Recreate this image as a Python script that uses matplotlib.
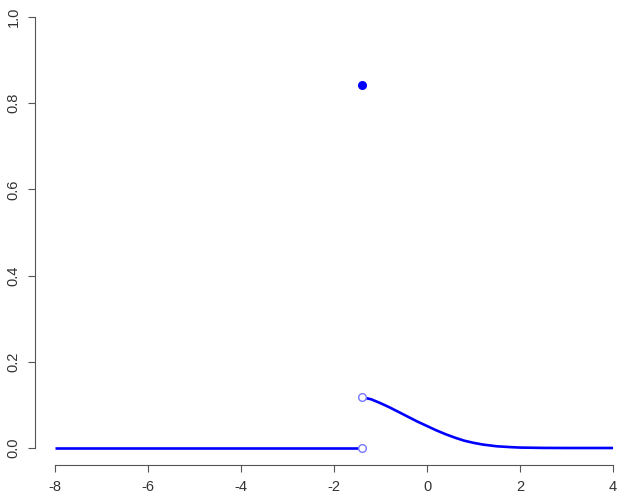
import matplotlib
matplotlib.use("Agg")
import matplotlib.pyplot as plt

plt.rcParams['font.family'] = ['Liberation Sans', 'DejaVu Sans']

# left piece: zero up to the jump
left_x = [-8.0, -1.4]
left_y = [0.0, 0.0]

# right piece: decaying tail after the jump
right_x = [-1.4, -1.2, -1.0, -0.8, -0.6, -0.4, -0.2, 0.0, 0.2, 0.4, 0.6, 0.8,
           1.0, 1.2, 1.5, 1.8, 2.0, 2.5, 3.0, 4.0]
right_y = [0.118, 0.113, 0.104, 0.094, 0.083, 0.072, 0.061, 0.051, 0.041, 0.032,
           0.024, 0.017, 0.012, 0.008, 0.004, 0.002, 0.001, 0.0002, 0.0, 0.0]

jump_x = -1.4
jump_val = 0.842
open_vals = [0.0, 0.118]

xticks = [-8, -6, -4, -2, 0, 2, 4]
yticks = [0.0, 0.2, 0.4, 0.6, 0.8, 1.0]

fig = plt.figure(figsize=(6.17, 4.93), dpi=100)
ax = fig.add_axes([55/617, 45/493, 558/617, 431/493])

ax.plot(left_x, left_y, color='#0000ff', lw=1.9, solid_capstyle='butt', clip_on=False)
ax.plot(right_x, right_y, color='#0000ff', lw=1.9, solid_capstyle='butt', clip_on=False)
ax.plot([jump_x] * len(open_vals), open_vals, 'o', ms=5.5, mfc='white',
        mec='#7777ff', mew=1.0, zorder=3, clip_on=False)
ax.plot([jump_x], [jump_val], 'o', ms=5.5, color='#0000ff', zorder=3, clip_on=False)

ax.set_xlim(-8, 4)
ax.set_ylim(0, 1)
ax.set_xticks(xticks)
ax.set_xticklabels([f'{t:g}' for t in xticks])
ax.set_yticks(yticks)
ax.set_yticklabels([f'{t:.1f}' for t in yticks])

for side in ['top', 'right']:
    ax.spines[side].set_visible(False)
ax.spines['left'].set_position(('outward', 14.4))
ax.spines['bottom'].set_position(('outward', 12.2))
ax.spines['left'].set_bounds(0, 1)
ax.spines['bottom'].set_bounds(-8, 4)
for side in ['left', 'bottom']:
    ax.spines[side].set_color('#555555')
    ax.spines[side].set_linewidth(0.8)
ax.tick_params(colors='#555555', labelcolor='#333333', length=5, width=0.8,
               labelsize=10.5, pad=5.5)
ax.tick_params(axis='y', labelrotation=90)
for lbl in ax.get_yticklabels():
    lbl.set_verticalalignment('center')

fig.savefig('out.png', dpi=100)
